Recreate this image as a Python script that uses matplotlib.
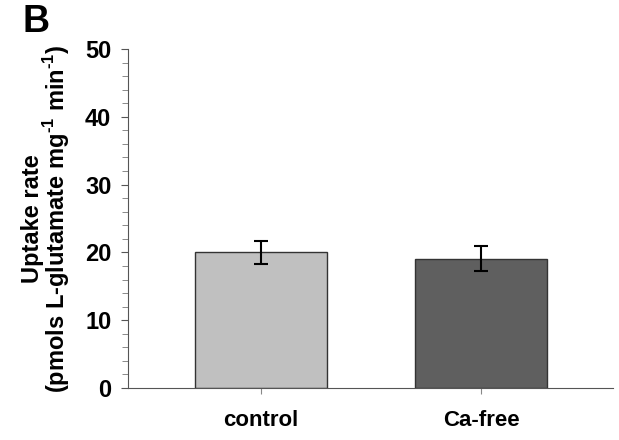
import matplotlib
matplotlib.use("Agg")
import matplotlib.pyplot as plt
from matplotlib.ticker import MultipleLocator

categories = ["control", "Ca-free"]
values = [20.0, 19.1]
errors = [1.7, 1.9]
colors = ["#c0c0c0", "#5f5f5f"]

plt.rcParams["font.family"] = ["Liberation Sans", "DejaVu Sans"]
plt.rcParams["font.weight"] = "bold"
plt.rcParams["mathtext.fontset"] = "custom"
plt.rcParams["mathtext.bf"] = "Liberation Sans:bold"
plt.rcParams["mathtext.rm"] = "Liberation Sans:bold"

fig = plt.figure(figsize=(6.19, 4.4), dpi=100)
ax = fig.add_axes([128 / 619, 1 - 388 / 440, (613 - 128) / 619, (388 - 49) / 440])

x = range(len(categories))
ax.bar(x, values, width=0.6, color=colors, edgecolor="#333333", linewidth=1,
       yerr=errors, error_kw=dict(ecolor="black", elinewidth=1.5, capsize=5, capthick=1.5))

ax.set_xlim(-0.605, 1.6)
ax.set_ylim(0, 50)
ax.yaxis.set_major_locator(MultipleLocator(10))
ax.yaxis.set_minor_locator(MultipleLocator(2))
ax.set_xticks(list(x))
ax.set_xticklabels(categories, fontsize=16, fontweight="bold")
ax.tick_params(axis="x", length=4, color="#888888", pad=12)
ax.tick_params(axis="y", which="major", length=5, color="#555555", labelsize=17, pad=7)
ax.tick_params(axis="y", which="minor", length=4, color="#777777")
for lbl in ax.get_yticklabels():
    lbl.set_fontweight("bold")

for s in ["top", "right"]:
    ax.spines[s].set_visible(False)
ax.spines["left"].set_color("#555555")
ax.spines["bottom"].set_color("#555555")

ax.set_ylabel("Uptake rate\n(pmols L-glutamate mg$^{\\text{-1}}$ min$^{\\text{-1}}$)",
              fontsize=17, fontweight="bold", labelpad=9, linespacing=0.9)

fig.text(22 / 619, 1 - 22 / 440, "B", fontsize=27, fontweight="bold", va="center", ha="left")

fig.savefig("out.png", dpi=100)
